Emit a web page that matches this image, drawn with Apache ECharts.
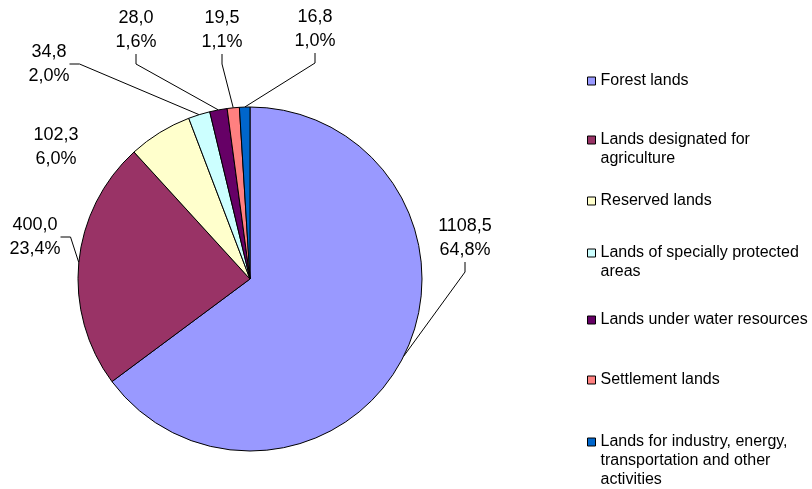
<!DOCTYPE html>
<html><head><meta charset="utf-8">
<script src="https://cdn.jsdelivr.net/npm/echarts@6/dist/echarts.min.js"></script>
<style>html,body{margin:0;padding:0;background:#fff}#c{width:812px;height:489px}</style>
</head><body><div id="c"></div>
<script>
const categories = ['Forest lands','Lands designated for agriculture','Reserved lands','Lands of specially protected areas','Lands under water resources','Settlement lands','Lands for industry, energy, transportation and other activities'];
const values = [1108.5, 400.0, 102.3, 34.8, 28.0, 19.5, 16.8];
const legendLabels = ['Forest lands','Lands designated for\nagriculture','Reserved lands','Lands of specially protected\nareas','Lands under water resources','Settlement lands','Lands for industry, energy,\ntransportation and other\nactivities'];
const colors = ['#9999FF','#993366','#FFFFCC','#CCFFFF','#660066','#FF8080','#0066CC'];
const labelPos = [[465,238],[35,237],[56,147],[49,64],[136,30],[222,30],[315,29]];
const legendY = [81,140,201,253,320,380,442];
const FONT = "'Liberation Sans', Arial, sans-serif";
const LH = 19;
const total = values.reduce((a, b) => a + b, 0);

const chart = echarts.init(document.getElementById('c'), null, {renderer:'canvas'});
const legends = categories.map((name, i) => {
  const n = legendLabels[i].split('\n').length;
  const txt = '\n'.repeat(n - 1) + legendLabels[i];
  return {
    show: true, orient: 'vertical', left: 587, top: legendY[i] - (2*n-1)*LH/2,
    padding: 0, itemWidth: 8, itemHeight: 8, icon: 'rect', selectedMode: false,
    itemStyle: {borderColor: '#000', borderWidth: 1},
    formatter: () => txt,
    textStyle: {fontFamily: FONT, fontSize: 16, color: '#000', lineHeight: LH},
    data: [name]
  };
});
chart.setOption({
  animation: false,
  color: colors,
  legend: legends,
  series: [{
    type: 'pie',
    center: [250, 279],
    radius: 172,
    startAngle: 90,
    clockwise: true,
    avoidLabelOverlap: false,
    itemStyle: {borderColor: '#000', borderWidth: 1},
    emphasis: {disabled: true},
    label: {
      show: true, position: 'outside', fontFamily: FONT, fontSize: 18, color: '#000', lineHeight: 24,
      formatter: p => p.value.toFixed(1).replace('.', ',') + '\n' + (p.value / total * 100).toFixed(1).replace('.', ',') + '%'
    },
    labelLine: {show: true, length: 10, length2: 10, lineStyle: {color: '#000', width: 1}},
    labelLayout: p => {
      const q = labelPos[p.dataIndex];
      return {x: q[0], y: q[1], align: 'center', verticalAlign: 'middle'};
    },
    data: categories.map((name, i) => ({
      name: name, value: values[i],
      labelLine: {show: i !== 2}
    }))
  }]
});
</script></body></html>
